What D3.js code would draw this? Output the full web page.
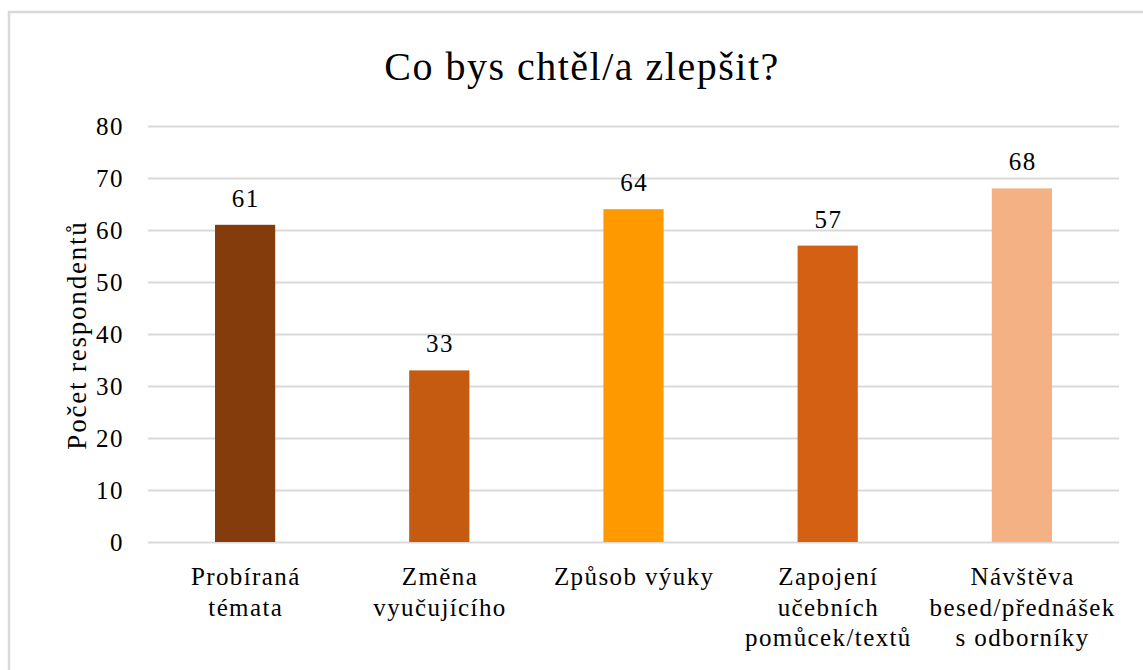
<!DOCTYPE html>
<html><head><meta charset="utf-8">
<script src="https://cdn.jsdelivr.net/npm/d3@7"></script>
</head><body style="margin:0">
<svg id="c" width="1143" height="670"></svg>
<script>
const categories = [["Probíraná","témata"],["Změna","vyučujícího"],["Způsob výuky"],["Zapojení","učebních","pomůcek/textů"],["Návštěva","besed/přednášek","s odborníky"]];
const values = [61,33,64,57,68];
const colors = ["#843C0C","#C55A11","#FF9900","#D46113","#F4B183"];
const yTicks = [0,10,20,30,40,50,60,70,80];
const title = "Co bys chtěl/a zlepšit?";
const yTitle = "Počet respondentů";

const FF = '"Liberation Serif", "Times New Roman", serif';
const svg = d3.select("#c");
svg.append("rect").attr("x",9).attr("y",12).attr("width",1160).attr("height",700)
  .attr("fill","#fff").attr("stroke","#d9d9d9").attr("stroke-width",2.5);

const L=148,R=1119,T=126,B=542;
const x = d3.scaleBand().domain(d3.range(values.length)).range([L,R]).paddingInner(0.69).paddingOuter(0.345);
const y = d3.scaleLinear().domain([0,80]).range([B,T]);

const yAxis = d3.axisLeft(y).tickValues(yTicks).tickSize(-(R-L)).tickPadding(24);
const gy = svg.append("g").attr("transform",`translate(${L},0)`).call(yAxis);
gy.attr("font-family",null).attr("font-size",null);
gy.select(".domain").remove();
gy.selectAll(".tick line").attr("stroke","#d9d9d9").attr("stroke-width",2);
gy.selectAll(".tick text").style("font-family",FF).style("letter-spacing","1.5px")
  .attr("font-size",25).attr("fill","#000").attr("dy","0.34em");

svg.selectAll("rect.bar").data(values).enter().append("rect").attr("class","bar")
  .attr("x",(d,i)=>x(i)).attr("width",x.bandwidth())
  .attr("y",d=>y(d)).attr("height",d=>B-y(d)).attr("fill",(d,i)=>colors[i]);

svg.selectAll("text.val").data(values).enter().append("text").attr("class","val")
  .attr("x",(d,i)=>x(i)+x.bandwidth()/2+0.75).attr("y",d=>y(d)-18)
  .attr("text-anchor","middle").style("font-family",FF).style("letter-spacing","1.5px")
  .attr("font-size",25).text(d=>d);

const xl = svg.selectAll("text.xl").data(categories).enter().append("text").attr("class","xl")
  .attr("text-anchor","middle").style("font-family",FF).style("letter-spacing","1.4px").attr("font-size",25);
xl.each(function(lines,i){
  const t=d3.select(this);
  lines.forEach((s,j)=>t.append("tspan").attr("x",x(i)+x.bandwidth()/2+0.7).attr("y",585+j*30.5).text(s));
});

svg.append("text").attr("x",582).attr("y",79.5).attr("text-anchor","middle")
  .style("font-family",FF).style("letter-spacing","1.5px").attr("font-size",40).text(title);
svg.append("text").attr("transform","translate(86,335) rotate(-90)").attr("text-anchor","middle")
  .style("font-family",FF).style("letter-spacing","1.8px").attr("font-size",27).text(yTitle);
</script>
</body></html>
